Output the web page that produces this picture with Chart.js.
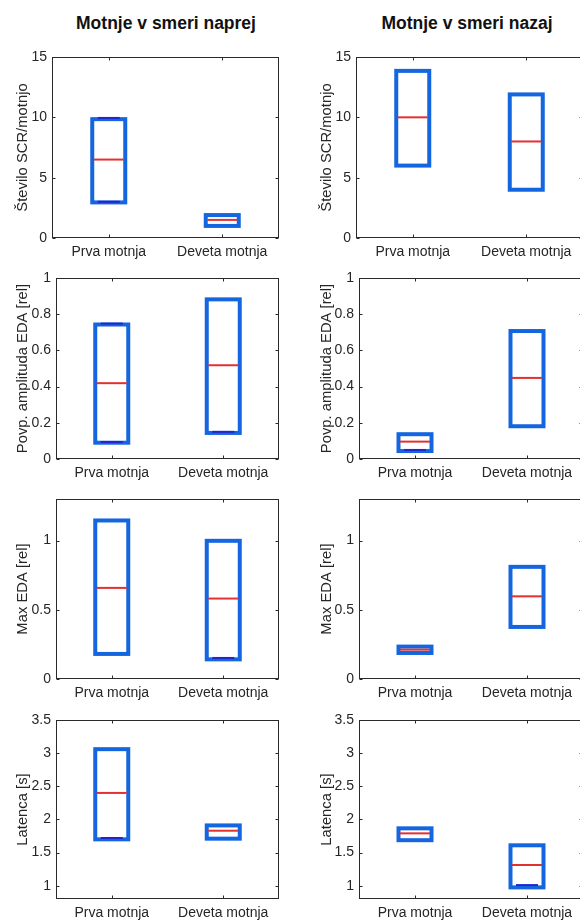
<!DOCTYPE html>
<html>
<head>
<meta charset="utf-8">
<script src="https://cdn.jsdelivr.net/npm/chart.js@4.4.1/dist/chart.umd.min.js"></script>
<style>
  html, body { margin: 0; padding: 0; background: #fff; overflow: hidden; }
  #wrap { position: relative; width: 580px; height: 924px; overflow: hidden; background: #fff; }
  .ttl { position: absolute; font-family: 'Liberation Sans', Arial, sans-serif; font-weight: bold;
         font-size: 17.5px; line-height: 18px; color: #111; white-space: nowrap; transform: translateX(-50%); }
  canvas { position: absolute; }
</style>
</head>
<body>
<div id="wrap">
  <div class="ttl" style="left:166px; top:14px;">Motnje v smeri naprej</div>
  <div class="ttl" style="left:467px; top:14px;">Motnje v smeri nazaj</div>
</div>
<script>
// ---------- data ----------
const categories = ['Prva motnja', 'Deveta motnja'];

const yTitleScr = 'Število SCR/motnjo';
const yTitleAmp = 'Povp. amplituda EDA [rel]';
const yTitleMax = 'Max EDA [rel]';
const yTitleLat = 'Latenca [s]';

const scrRange = [0, 15];
const ampRange = [0, 1];
const maxRange = [0, 1.3];
const latRange = [0.8, 3.5];

const scrTicks = [0, 5, 10, 15];
const ampTicks = [0, 0.2, 0.4, 0.6, 0.8, 1];
const maxTicks = [0, 0.5, 1];
const latTicks = [1, 1.5, 2, 2.5, 3, 3.5];

// box = [lower quartile, upper quartile]
const scrFwdBox = [[2.95, 9.85], [1.0, 1.9]];
const scrFwdMedian = [6.5, 1.5];
const scrFwdCapLo = [3.0, null];
const scrFwdCapHi = [9.95, null];

const scrBwdBox = [[6.0, 13.85], [4.0, 11.9]];
const scrBwdMedian = [10.0, 8.0];
const scrBwdCapLo = [null, null];
const scrBwdCapHi = [null, null];

const ampFwdBox = [[0.09, 0.743], [0.144, 0.882]];
const ampFwdMedian = [0.419, 0.518];
const ampFwdCapLo = [0.094, 0.15];
const ampFwdCapHi = [0.748, null];

const ampBwdBox = [[0.044, 0.137], [0.181, 0.707]];
const ampBwdMedian = [0.096, 0.448];
const ampBwdCapLo = [0.05, null];
const ampBwdCapHi = [null, null];

const maxFwdBox = [[0.181, 1.145], [0.142, 0.998]];
const maxFwdMedian = [0.658, 0.581];
const maxFwdCapLo = [null, 0.152];
const maxFwdCapHi = [null, null];

const maxBwdBox = [[0.188, 0.234], [0.376, 0.81]];
const maxBwdMedian = [0.212, 0.597];
const maxBwdCapLo = [null, null];
const maxBwdCapHi = [null, null];

const latFwdBox = [[1.70, 3.06], [1.71, 1.91]];
const latFwdMedian = [2.40, 1.83];
const latFwdCapLo = [1.72, null];
const latFwdCapHi = [null, null];

const latBwdBox = [[1.687, 1.866], [0.975, 1.61]];
const latBwdMedian = [1.79, 1.313];
const latBwdCapLo = [null, 1.01];
const latBwdCapHi = [null, null];

// ---------- styles ----------
const BOX_COLOR = '#1466e0';
const CAP_COLOR = '#2424cc';
const MED_COLOR = '#e33030';
const AXIS_COLOR = '#2a2a2a';
const TEXT_COLOR = '#262626';
const FONT = "'Liberation Sans', Arial, sans-serif";

Chart.defaults.font.family = FONT;
Chart.defaults.font.size = 14;
Chart.defaults.color = TEXT_COLOR;

const panels = [
  { col: 0, row: 0, yTitle: yTitleScr, range: scrRange, ticks: scrTicks, box: scrFwdBox, med: scrFwdMedian, lo: scrFwdCapLo, hi: scrFwdCapHi },
  { col: 1, row: 0, yTitle: yTitleScr, range: scrRange, ticks: scrTicks, box: scrBwdBox, med: scrBwdMedian, lo: scrBwdCapLo, hi: scrBwdCapHi },
  { col: 0, row: 1, yTitle: yTitleAmp, range: ampRange, ticks: ampTicks, box: ampFwdBox, med: ampFwdMedian, lo: ampFwdCapLo, hi: ampFwdCapHi },
  { col: 1, row: 1, yTitle: yTitleAmp, range: ampRange, ticks: ampTicks, box: ampBwdBox, med: ampBwdMedian, lo: ampBwdCapLo, hi: ampBwdCapHi },
  { col: 0, row: 2, yTitle: yTitleMax, range: maxRange, ticks: maxTicks, box: maxFwdBox, med: maxFwdMedian, lo: maxFwdCapLo, hi: maxFwdCapHi },
  { col: 1, row: 2, yTitle: yTitleMax, range: maxRange, ticks: maxTicks, box: maxBwdBox, med: maxBwdMedian, lo: maxBwdCapLo, hi: maxBwdCapHi },
  { col: 0, row: 3, yTitle: yTitleLat, range: latRange, ticks: latTicks, box: latFwdBox, med: latFwdMedian, lo: latFwdCapLo, hi: latFwdCapHi },
  { col: 1, row: 3, yTitle: yTitleLat, range: latRange, ticks: latTicks, box: latBwdBox, med: latBwdMedian, lo: latBwdCapLo, hi: latBwdCapHi }
];

// layout geometry (page px)
const rowTop = [57, 278, 499, 720];
const rowBottom = [238, 459, 679, 899];
const colCanvasLeft = [0, 290];
const colCanvasWidth = [290, 300];
const colPadRight = [11, 7];
const colAxisWidth = [[52, 56, 56, 56], [66, 69, 69, 69]];
const colTitlePad = [13.6, 28.4];
const PAD_TOP = 10;
const XAXIS_H = 24;
const TICK_LEN = 3;

const axesPlugin = {
  id: 'matlabAxes',
  beforeDatasetsDraw(chart) {
    const { ctx, chartArea: a, scales } = chart;
    ctx.save();
    ctx.strokeStyle = AXIS_COLOR;
    ctx.lineWidth = 1;
    const L = Math.round(a.left) + 0.5, R = Math.round(a.right) - 0.5;
    const T = Math.round(a.top) + 0.5, B = Math.round(a.bottom) - 0.5;
    ctx.strokeRect(L, T, R - L, B - T);
    ctx.beginPath();
    scales.y.ticks.forEach(t => {
      const py = Math.round(scales.y.getPixelForValue(t.value)) + 0.5;
      ctx.moveTo(L, py); ctx.lineTo(L + TICK_LEN, py);
      ctx.moveTo(R, py); ctx.lineTo(R - TICK_LEN, py);
    });
    scales.x.ticks.forEach((t, i) => {
      const px = Math.round(scales.x.getPixelForTick(i)) + 0.5;
      ctx.moveTo(px, B); ctx.lineTo(px, B - TICK_LEN);
      ctx.moveTo(px, T); ctx.lineTo(px, T + TICK_LEN);
    });
    ctx.stroke();
    ctx.restore();
  },
  afterDatasetDraw(chart, args) {
    const ds = chart.data.datasets[args.index];
    if (!ds.outline) return;
    const ctx = chart.ctx;
    ctx.save();
    ctx.strokeStyle = ds.outline.color;
    ctx.lineWidth = ds.outline.width;
    ctx.lineJoin = 'miter';
    args.meta.data.forEach(el => {
      const p = el.getProps(['x', 'y', 'base', 'width'], true);
      if (p.y == null || isNaN(p.y)) return;
      const top = Math.min(p.y, p.base), h = Math.abs(p.base - p.y);
      ctx.strokeRect(p.x - p.width / 2, top, p.width, h);
    });
    ctx.restore();
  }
};

const wrap = document.getElementById('wrap');

panels.forEach(pn => {
  const cv = document.createElement('canvas');
  const W = colCanvasWidth[pn.col];
  const H = rowBottom[pn.row] - rowTop[pn.row] + PAD_TOP + XAXIS_H;
  cv.width = W; cv.height = H;
  cv.style.width = W + 'px'; cv.style.height = H + 'px';
  cv.style.left = colCanvasLeft[pn.col] + 'px';
  cv.style.top = (rowTop[pn.row] - PAD_TOP) + 'px';
  wrap.appendChild(cv);

  const yw = colAxisWidth[pn.col][pn.row];
  const tickVals = pn.ticks;

  new Chart(cv, {
    type: 'bar',
    data: {
      labels: categories,
      datasets: [
        {
          type: 'line', label: 'median', data: pn.med, order: 1,
          showLine: false, pointStyle: 'line', pointRadius: 15, pointHoverRadius: 15,
          pointBorderColor: MED_COLOR, pointBackgroundColor: MED_COLOR, pointBorderWidth: 2,
          borderColor: MED_COLOR, clip: false
        },
        {
          type: 'line', label: 'capLo', data: pn.lo, order: 2,
          showLine: false, pointStyle: 'line', pointRadius: 11, pointHoverRadius: 11,
          pointBorderColor: CAP_COLOR, pointBackgroundColor: CAP_COLOR, pointBorderWidth: 2,
          borderColor: CAP_COLOR, clip: false
        },
        {
          type: 'line', label: 'capHi', data: pn.hi, order: 2,
          showLine: false, pointStyle: 'line', pointRadius: 11, pointHoverRadius: 11,
          pointBorderColor: CAP_COLOR, pointBackgroundColor: CAP_COLOR, pointBorderWidth: 2,
          borderColor: CAP_COLOR, clip: false
        },
        {
          type: 'bar', label: 'box', data: pn.box, order: 3,
          backgroundColor: 'rgba(0,0,0,0)', borderWidth: 0, barThickness: 33,
          outline: { color: BOX_COLOR, width: 4 }
        }
      ]
    },
    options: {
      responsive: false,
      animation: false,
      devicePixelRatio: 1,
      layout: { autoPadding: false, padding: { top: PAD_TOP, right: colPadRight[pn.col], left: 0, bottom: 0 } },
      plugins: { legend: { display: false }, tooltip: { enabled: false }, title: { display: false } },
      scales: {
        x: {
          type: 'category',
          grid: { display: false, drawTicks: false, tickLength: 0 },
          border: { display: false },
          ticks: { padding: 6, color: TEXT_COLOR, font: { size: 14 }, maxRotation: 0, autoSkip: false },
          afterFit: s => { s.height = XAXIS_H; s.paddingLeft = 0; s.paddingRight = 0; }
        },
        y: {
          type: 'linear',
          min: pn.range[0], max: pn.range[1],
          grid: { display: false, drawTicks: false, tickLength: 0 },
          border: { display: false },
          afterBuildTicks: s => { s.ticks = tickVals.map(v => ({ value: v })); },
          ticks: { padding: 5, color: TEXT_COLOR, font: { size: 14 }, autoSkip: false, callback: v => String(v) },
          title: { display: true, text: pn.yTitle, color: TEXT_COLOR, font: { size: 14.8 },
                   padding: { top: colTitlePad[pn.col], bottom: 0 } },
          afterFit: s => { s.width = yw; s.paddingTop = 0; s.paddingBottom = 0; }
        }
      }
    },
    plugins: [axesPlugin]
  });
});
</script>
</body>
</html>
